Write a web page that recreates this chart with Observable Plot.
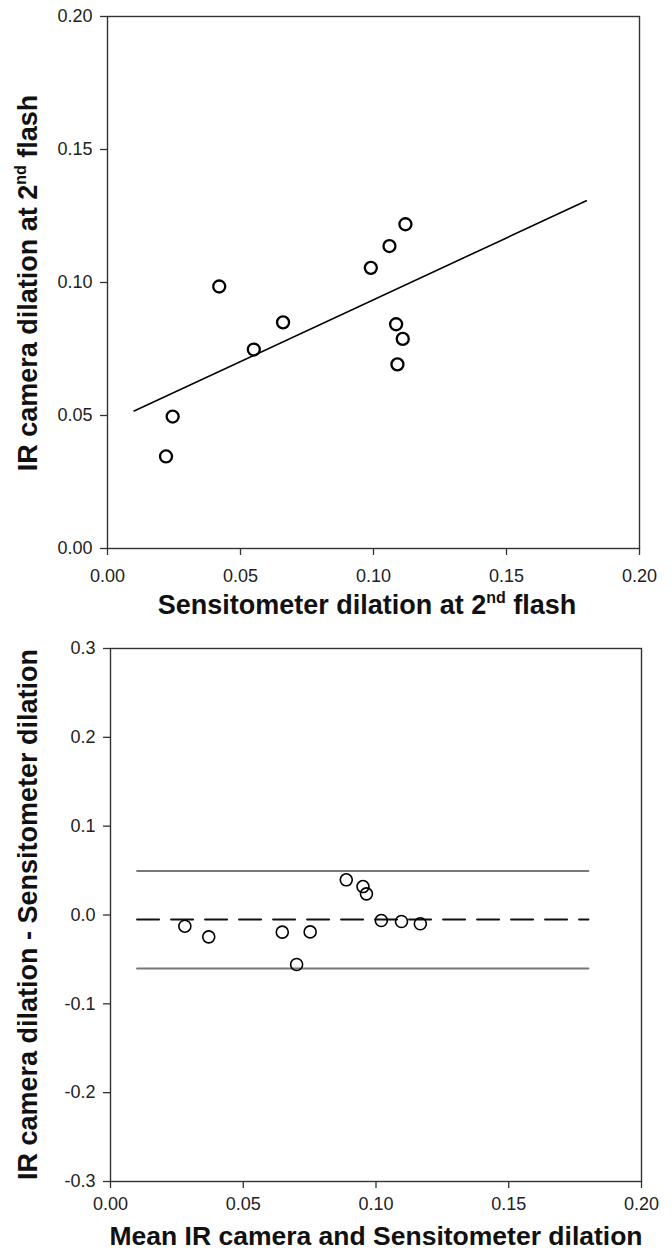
<!DOCTYPE html>
<html><head><meta charset="utf-8">
<script src="https://cdn.jsdelivr.net/npm/d3@7"></script>
<script src="https://cdn.jsdelivr.net/npm/@observablehq/plot@0.6"></script>
<style>
body{margin:0;background:#fff;}
#chart{width:672px;}
#chart svg{display:block;}
</style>
</head><body><div id="chart"></div>
<script>
// ---- Panel A: IR camera vs Sensitometer dilation at 2nd flash ----
const sensX = [0.022, 0.0245, 0.042, 0.055, 0.066, 0.099, 0.106, 0.112, 0.1085, 0.111, 0.109];
const irY   = [0.0346, 0.0496, 0.0985, 0.0748, 0.085, 0.1055, 0.1137, 0.1219, 0.0843, 0.0788, 0.0692];
const fitX  = [0.01, 0.18];
const fitY  = [0.0517, 0.1307];
const ticksA = [0, 0.05, 0.10, 0.15, 0.20];

// ---- Panel B: Bland-Altman ----
const meanX = [0.028, 0.037, 0.0647, 0.0752, 0.0701, 0.0888, 0.0951, 0.0964, 0.102, 0.1096, 0.1167];
const diffY = [-0.0126, -0.0246, -0.0193, -0.019, -0.0557, 0.0396, 0.032, 0.0238, -0.0062, -0.0073, -0.0099];
const limitX = [0.01, 0.18];
const upperLimit = 0.0495;
const meanDiff = -0.0051;
const lowerLimit = -0.0602;
const ticksBx = [0, 0.05, 0.10, 0.15, 0.20];
const ticksBy = [-0.3, -0.2, -0.1, 0.0, 0.1, 0.2, 0.3];

const FONT = "'Liberation Sans', Arial, sans-serif";
const frameColor = "#333";

const ptsA = sensX.map((x, i) => ({x, y: irY[i]}));
const fitA = fitX.map((x, i) => ({x, y: fitY[i]}));
const ptsB = meanX.map((x, i) => ({x, y: diffY[i]}));
const hline = (v) => limitX.map(x => ({x, y: v}));

const p1 = Plot.plot({
  width: 672, height: 620,
  marginLeft: 107, marginRight: 33, marginTop: 16, marginBottom: 72,
  x: {domain: [0, 0.2]},
  y: {domain: [0, 0.2]},
  style: {fontFamily: FONT, fontSize: "18px", color: "#222", background: "#fff"},
  marks: [
    Plot.axisX(ticksA, {tickSize: 7, tickPadding: 14, tickFormat: d => d.toFixed(2), label: null, stroke: frameColor, strokeWidth: 1.3, fontSize: 18}),
    Plot.axisY(ticksA, {tickSize: 7, tickPadding: 8, tickFormat: d => d.toFixed(2), label: null, stroke: frameColor, strokeWidth: 1.3, fontSize: 18}),
    Plot.frame({stroke: frameColor, strokeWidth: 1.4}),
    Plot.line(fitA, {x: "x", y: "y", stroke: "#000", strokeWidth: 1.6}),
    Plot.dot(ptsA, {x: "x", y: "y", r: 6, stroke: "#000", strokeWidth: 2.3, fill: "none"})
  ]
});

const p2 = Plot.plot({
  width: 672, height: 632,
  marginLeft: 110, marginRight: 31, marginTop: 28, marginBottom: 71,
  x: {domain: [0, 0.2]},
  y: {domain: [-0.3, 0.3]},
  style: {fontFamily: FONT, fontSize: "18px", color: "#222", background: "#fff"},
  marks: [
    Plot.axisX(ticksBx, {tickSize: 7, tickPadding: 9, tickFormat: d => d.toFixed(2), label: null, stroke: frameColor, strokeWidth: 1.3, fontSize: 18}),
    Plot.axisY(ticksBy, {tickSize: 7, tickPadding: 8, tickFormat: d => d.toFixed(1), label: null, stroke: frameColor, strokeWidth: 1.3, fontSize: 18}),
    Plot.frame({stroke: frameColor, strokeWidth: 1.4}),
    Plot.line(hline(upperLimit), {x: "x", y: "y", stroke: "#777", strokeWidth: 2}),
    Plot.line(hline(lowerLimit), {x: "x", y: "y", stroke: "#777", strokeWidth: 2}),
    Plot.line(hline(meanDiff), {x: "x", y: "y", stroke: "#111", strokeWidth: 2, strokeDasharray: "22,12"}),
    Plot.dot(ptsB, {x: "x", y: "y", r: 6, stroke: "#000", strokeWidth: 1.6, fill: "none"})
  ]
});

function addTitle(svgNode, parts, x, y, rotate, size) {
  const t = d3.select(svgNode).append("text")
    .attr("text-anchor", "middle")
    .attr("font-family", FONT)
    .attr("font-weight", "bold")
    .attr("font-size", size || 27)
    .attr("fill", "#111")
    .attr("transform", rotate ? `translate(${x},${y}) rotate(-90)` : `translate(${x},${y})`);
  parts.forEach(p => {
    const ts = t.append("tspan").text(p.text);
    if (p.sup) ts.attr("font-size", 16).attr("dy", -11);
    if (p.after) ts.attr("dy", 11);
  });
}

addTitle(p1, [{text: "Sensitometer dilation at 2"}, {text: "nd", sup: true}, {text: " flash", after: true}], 367, 614, false);
addTitle(p1, [{text: "IR camera dilation at 2"}, {text: "nd", sup: true}, {text: " flash", after: true}], 37, 283, true);
addTitle(p2, [{text: "Mean IR camera and Sensitometer dilation"}], 376, 625, false, 26.5);
addTitle(p2, [{text: "IR camera dilation - Sensitometer dilation"}], 37, 294.5, true);

document.getElementById("chart").append(p1, p2);
</script>
</body></html>
